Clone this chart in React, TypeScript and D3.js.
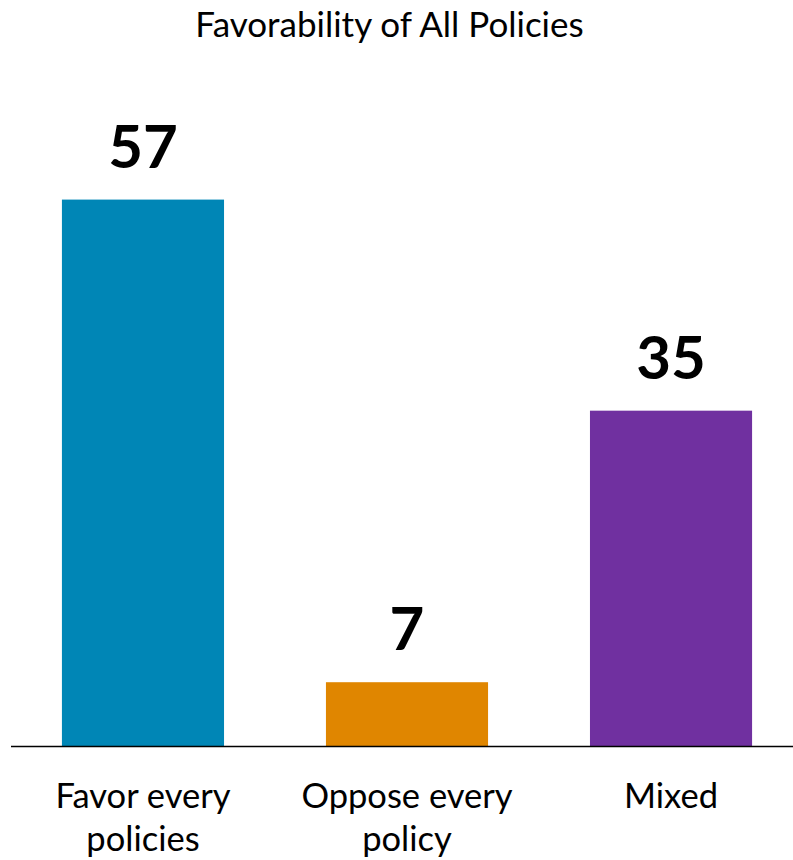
import React from "react";
import * as d3 from "d3";

const categories: string[][] = [
  ["Favor every", "policies"],
  ["Oppose every", "policy"],
  ["Mixed"],
];
const values: number[] = [57, 6.7, 35];
const valueLabels: string[] = ["57", "7", "35"];
const colors: string[] = ["#0086B6", "#E08600", "#7030A0"];
const title = "Favorability of All Policies";

const W = 793;
const H = 860;
const FONT = "Lato, 'Open Sans', sans-serif";

export default function App() {
  const baseY = 746.5;
  const y = d3.scaleLinear().domain([0, 60]).range([baseY, baseY - 60 * 9.595]);
  const x = d3
    .scaleBand<number>()
    .domain(d3.range(values.length))
    .range([21, 793])
    .paddingInner(0.386)
    .paddingOuter(0.155);

  return (
    <svg
      width={W}
      height={H}
      style={{ position: "absolute", left: 0, top: 0, background: "#fff" }}
    >
      <text
        x={389.5}
        y={37}
        textAnchor="middle"
        fontFamily={FONT}
        fontSize={35}
        fill="#000"
      >
        {title}
      </text>
      {values.map((v, i) => {
        const bx = x(i)!;
        const bw = x.bandwidth();
        return (
          <g key={i}>
            <rect x={bx} y={y(v)} width={bw} height={y(0) - y(v)} fill={colors[i]} />
            <text
              x={bx + bw / 2}
              y={y(v) - 32}
              textAnchor="middle"
              fontFamily={FONT}
              fontWeight="bold"
              fontSize={60}
              fill="#000"
            >
              {valueLabels[i]}
            </text>
            {categories[i].map((line, j) => (
              <text
                key={j}
                x={bx + bw / 2}
                y={808 + j * 43}
                textAnchor="middle"
                fontFamily={FONT}
                fontSize={34.5}
                fill="#000"
              >
                {line}
              </text>
            ))}
          </g>
        );
      })}
      <line x1={11} x2={793} y1={baseY} y2={baseY} stroke="#000" strokeWidth={1.5} />
    </svg>
  );
}
